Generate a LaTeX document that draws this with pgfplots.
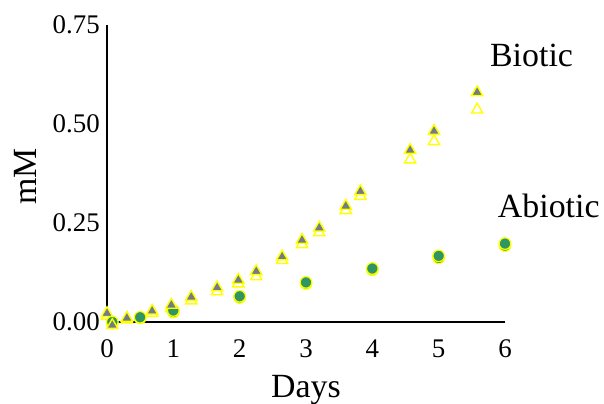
\documentclass[border=0pt]{standalone}
\usepackage{pgfplots}
\pgfplotsset{compat=1.18}
\usepackage{fontspec}
\setmainfont{Liberation Serif}
\definecolor{markyellow}{RGB}{255,255,0}
\definecolor{slate}{RGB}{112,125,132}
\definecolor{abiogreen}{RGB}{45,150,100}
\begin{document}
\begin{tikzpicture}
\begin{axis}[
  scale only axis, width=398bp, height=297bp,
  xmin=0, xmax=6, ymin=0, ymax=0.75,
  axis lines=left, axis line style={-, line width=1.6bp, black},
  xtick={0,...,6}, ytick={0,0.25,0.5,0.75},
  major tick length=4bp, tick align=center,
  tick style={white, line width=1.6bp},
  /pgf/number format/assume math mode=true,
  ticklabel style={font=\fontsize{27}{30}\selectfont},
  yticklabel style={/pgf/number format/fixed, /pgf/number format/fixed zerofill,
    /pgf/number format/precision=2, anchor=east, inner sep=0pt, xshift=-5bp},
  xticklabel style={anchor=base, yshift=-33bp},
  xlabel={Days},
  label style={font=\fontsize{34}{38}\selectfont},
  xlabel style={at={(axis description cs:0.5,0)}, anchor=base, yshift=-75bp},
  clip=false,
]
\coordinate (o) at (axis cs:0,0);
% biotic, open triangles
\addplot[only marks, mark=triangle*, mark size=6.5bp,
  mark options={fill=white, draw=markyellow, line width=1.4bp}] coordinates {
(0.0,0.015) (0.3,0.006) (0.68,0.022) (0.97,0.035) (1.27,0.054) (1.66,0.077)
(1.98,0.097) (2.25,0.115) (2.64,0.156) (2.94,0.196) (3.2,0.226) (3.6,0.282)
(3.82,0.318) (4.57,0.41) (4.93,0.456) (5.58,0.536)};
% abiotic, two replicates
\addplot[only marks, mark=*, mark size=5.8bp,
  mark options={fill=abiogreen, draw=markyellow, line width=1.2bp}] coordinates {
(0.08,-0.003) (0.5,0.010) (1.0,0.025) (2.0,0.062) (3.0,0.097) (4.0,0.132)
(5.0,0.162) (6.0,0.193)};
\addplot[only marks, mark=*, mark size=5.8bp,
  mark options={fill=abiogreen, draw=markyellow, line width=1.2bp}] coordinates {
(0.08,0.0) (0.5,0.012) (1.0,0.029) (2.0,0.065) (3.0,0.100) (4.0,0.135)
(5.0,0.167) (6.0,0.198)};
% biotic, filled triangles
\addplot[only marks, mark=triangle*, mark size=6.5bp,
  mark options={fill=slate, draw=markyellow, line width=1.4bp}] coordinates {
(0.0,0.022) (0.08,-0.008) (0.3,0.010) (0.68,0.028) (0.97,0.043) (1.27,0.063)
(1.66,0.087) (1.98,0.106) (2.25,0.128) (2.64,0.165) (2.94,0.207) (3.2,0.238)
(3.6,0.293) (3.82,0.330) (4.57,0.434) (4.93,0.482) (5.58,0.580)};
\node[anchor=base, font=\fontsize{34}{38}\selectfont] at (axis cs:6.40,0.644) {Biotic};
\node[anchor=base, font=\fontsize{34}{38}\selectfont] at (axis cs:6.66,0.265) {Abiotic};
\node[anchor=base, rotate=90, font=\fontsize{34}{38}\selectfont]
  at ([xshift=-70bp]axis description cs:0,0.49) {mM};
\end{axis}
\pgfresetboundingbox
\path (o) ++(-107bp,-82bp) rectangle ++(604bp,404bp);
\end{tikzpicture}
\end{document}
